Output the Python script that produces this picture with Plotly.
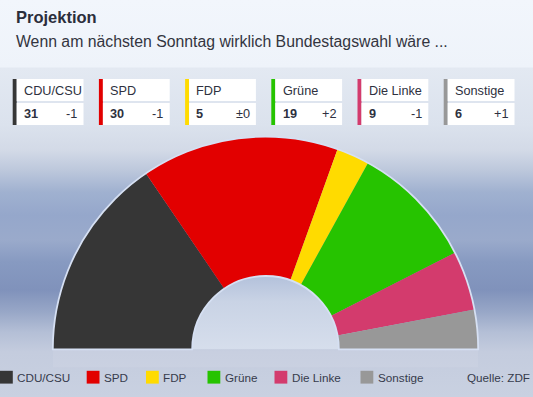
import base64
import plotly.graph_objects as go

# ---------------- data ----------------
PARTIES = ["CDU/CSU", "SPD", "FDP", "Grüne", "Die Linke", "Sonstige"]
VALUES = [31, 30, 5, 19, 9, 6]
CHANGES = ["-1", "-1", "±0", "+2", "-1", "+1"]
COLORS = ["#363636", "#e20000", "#ffdb00", "#26c300", "#d33b6d", "#989898"]
TITLE = "Projektion"
SUBTITLE = "Wenn am nächsten Sonntag wirklich Bundestagswahl wäre ..."
SOURCE = "Quelle: ZDF"

# ---------------- layout constants (pixels) ----------------
W, H = 533, 397
FONT = "Liberation Sans, Arial, Helvetica, sans-serif"
CX, CY, R_OUT, R_IN = 265.5, 349.3, 212.7, 73.3
BOX_X0, BOX_STEP, BOX_W, BAR_W = 12.7, 86.2, 70.8, 4.0
BOX_TOP, BOX_SEP0, BOX_SEP1, BOX_BOT = 79.0, 101.0, 103.0, 125.0
LEGEND_X = [0.0, 86.7, 146.0, 207.5, 274.5, 360.5]
LEG_Y0, LEG_SQ = 370.8, 12.8


def fx(x):
    return x / W


def fy(y):
    return 1 - y / H


# ---------------- background (svg gradient) ----------------
stops = [
    (0, "#f2f6fc"), (67, "#eef3fa"), (68, "#e3e9f2"), (125, "#dbe2ed"),
    (150, "#d3dae7"), (170, "#bdc8dc"), (192, "#a0b1d0"), (215, "#95a7cb"),
    (240, "#9aaacb"), (262, "#879ac1"), (290, "#8092bb"), (312, "#98a7c7"),
    (332, "#b4bfd6"), (352, "#c4ccde"), (397, "#c9d1e1"),
]
stop_xml = "".join(
    f'<stop offset="{y / H:.4f}" stop-color="{c}"/>' for y, c in stops
)
hole_path = (
    f"M{CX - R_IN:.1f},{CY:.1f} A{R_IN:.1f},{R_IN:.1f} 0 0 1 "
    f"{CX + R_IN:.1f},{CY:.1f} Z"
)
svg = f'''<svg xmlns="http://www.w3.org/2000/svg" width="{W}" height="{H}" viewBox="0 0 {W} {H}">
<defs>
<linearGradient id="bg" x1="0" y1="0" x2="0" y2="1">{stop_xml}</linearGradient>
<linearGradient id="hole" x1="0" y1="0" x2="0" y2="1">
<stop offset="0" stop-color="#b3c1db"/><stop offset="0.35" stop-color="#c9d3e5"/>
<stop offset="1" stop-color="#d6deec"/></linearGradient>
</defs>
<rect x="0" y="0" width="{W}" height="{H}" fill="url(#bg)"/>
<rect x="{CX - R_OUT:.1f}" y="{CY:.1f}" width="{2 * R_OUT:.1f}" height="18" fill="#ffffff" fill-opacity="0.07"/>
<path d="{hole_path}" fill="url(#hole)"/>
</svg>'''
svg_uri = "data:image/svg+xml;base64," + base64.b64encode(svg.encode("utf-8")).decode("ascii")

# ---------------- figure ----------------
fig = go.Figure()

# half-donut from data: angular scale 0..180 deg spans 100 %
total = sum(VALUES)
scale = 180.0 / total
cum = 0
thetas, widths = [], []
for v in VALUES:
    thetas.append((cum + v / 2) * scale)
    widths.append(v * scale)
    cum += v

fig.add_trace(go.Barpolar(
    r=[1] * len(VALUES), theta=thetas, width=widths,
    marker=dict(color=COLORS, line=dict(width=0)),
    customdata=PARTIES, hovertemplate="%{customdata}<extra></extra>",
    showlegend=False,
))

shapes = []
annotations = []

# title
annotations.append(dict(
    x=fx(16.3), y=fy(17), xref="paper", yref="paper", xanchor="left", yanchor="middle",
    text=f"<b>{TITLE}</b>", showarrow=False, borderpad=0, borderwidth=0,
    font=dict(family=FONT, size=16.5, color="#2b2e3b"),
))
annotations.append(dict(
    x=fx(16.3), y=fy(41), xref="paper", yref="paper", xanchor="left", yanchor="middle",
    text=SUBTITLE, showarrow=False, borderpad=0, borderwidth=0,
    font=dict(family=FONT, size=15.8, color="#33353f"),
))

# party boxes
for i, (p, v, ch, c) in enumerate(zip(PARTIES, VALUES, CHANGES, COLORS)):
    x0 = BOX_X0 + i * BOX_STEP
    shapes.append(dict(type="rect", xref="paper", yref="paper", layer="above",
                       x0=fx(x0), x1=fx(x0 + BAR_W), y0=fy(BOX_BOT), y1=fy(BOX_TOP),
                       fillcolor=c, line=dict(width=0)))
    for (a, b) in [(BOX_TOP, BOX_SEP0), (BOX_SEP1, BOX_BOT)]:
        shapes.append(dict(type="rect", xref="paper", yref="paper", layer="above",
                           x0=fx(x0 + BAR_W), x1=fx(x0 + BOX_W), y0=fy(b), y1=fy(a),
                           fillcolor="#ffffff", line=dict(width=0)))
    annotations.append(dict(
        x=fx(x0 + 11.3), y=fy(90.7), xref="paper", yref="paper", xanchor="left",
        yanchor="middle", text=p, showarrow=False, borderpad=0, borderwidth=0,
        font=dict(family=FONT, size=12.7, color="#2e3140"),
    ))
    annotations.append(dict(
        x=fx(x0 + 11.3), y=fy(114.3), xref="paper", yref="paper", xanchor="left",
        yanchor="middle", text=f"<b>{v}</b>", showarrow=False, borderpad=0, borderwidth=0,
        font=dict(family=FONT, size=12.7, color="#2e3140"),
    ))
    annotations.append(dict(
        x=fx(x0 + 64.5), y=fy(114.3), xref="paper", yref="paper", xanchor="right",
        yanchor="middle", text=ch, showarrow=False, borderpad=0, borderwidth=0,
        font=dict(family=FONT, size=12.7, color="#2e3140"),
    ))

# custom legend
for p, c, lx in zip(PARTIES, COLORS, LEGEND_X):
    shapes.append(dict(type="rect", xref="paper", yref="paper", layer="above",
                       x0=fx(lx), x1=fx(lx + LEG_SQ), y0=fy(LEG_Y0 + LEG_SQ), y1=fy(LEG_Y0),
                       fillcolor=c, line=dict(width=0)))
    annotations.append(dict(
        x=fx(lx + LEG_SQ + 4.3), y=fy(LEG_Y0 + LEG_SQ / 2), xref="paper", yref="paper",
        xanchor="left", yanchor="middle", text=p, showarrow=False,
        borderpad=0, borderwidth=0,
        font=dict(family=FONT, size=11.7, color="#363b4c"),
    ))
annotations.append(dict(
    x=fx(529.6), y=fy(LEG_Y0 + LEG_SQ / 2), xref="paper", yref="paper",
    xanchor="right", yanchor="middle", text=SOURCE, showarrow=False,
    borderpad=0, borderwidth=0,
    font=dict(family=FONT, size=11.7, color="#363b4c"),
))

fig.update_layout(
    width=W, height=H,
    margin=dict(l=0, r=0, t=0, b=0),
    paper_bgcolor="rgba(0,0,0,0)", plot_bgcolor="rgba(0,0,0,0)",
    showlegend=False,
    images=[dict(source=svg_uri, xref="paper", yref="paper", x=0, y=1,
                 sizex=1, sizey=1, sizing="stretch", xanchor="left", yanchor="top",
                 layer="below")],
    polar=dict(
        domain=dict(x=[fx(CX - R_OUT), fx(CX + R_OUT)], y=[fy(CY), fy(CY - R_OUT)]),
        sector=[0, 180],
        hole=R_IN / R_OUT,
        bgcolor="rgba(0,0,0,0)",
        radialaxis=dict(visible=True, range=[0, 1], showline=False,
                        showticklabels=False, ticks="", showgrid=True,
                        tickvals=[0.004], gridcolor="rgba(228,235,247,1)",
                        gridwidth=2, layer="above traces"),
        angularaxis=dict(visible=True, rotation=180, direction="clockwise",
                         thetaunit="degrees", showline=True,
                         linecolor="rgba(214,224,243,1)", linewidth=1.8,
                         showgrid=False, showticklabels=False, ticks="",
                         layer="above traces"),
        bargap=0,
    ),
    shapes=shapes,
    annotations=annotations,
    font=dict(family=FONT),
)

fig.write_html(
    "out.html",
    config={"displayModeBar": False},
    post_script="document.body.style.margin='0';document.body.style.padding='0';"
                "document.body.style.overflow='hidden';",
)
